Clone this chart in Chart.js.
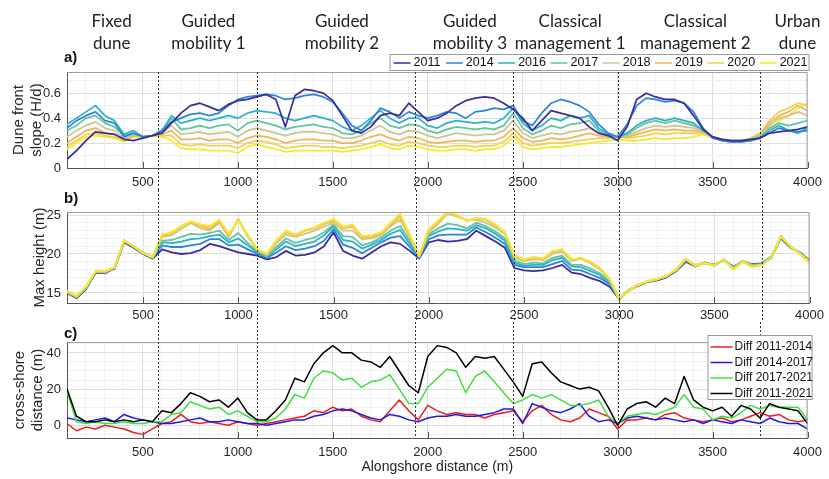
<!DOCTYPE html>
<html>
<head>
<meta charset="utf-8">
<script src="https://cdn.jsdelivr.net/npm/chart.js@4.4.1/dist/chart.umd.min.js"></script>
<style>
  html, body { margin: 0; padding: 0; background: #fff; }
  #wrap { position: relative; width: 829px; height: 479px; overflow: hidden; }
  canvas { position: absolute; left: 0; }
  .ytick {
    position: absolute; z-index: 5; text-align: right; white-space: nowrap;
    font: 13px "Liberation Sans", Arial, sans-serif; line-height: 16px; color: #262626;
  }
</style>
</head>
<body>
<div id="wrap">
  <canvas id="slopeChart" width="829" height="190" style="top:0"></canvas>
  <canvas id="heightChart" width="829" height="132" style="top:190px"></canvas>
  <canvas id="diffChart" width="829" height="157" style="top:322px"></canvas>
</div>
<script>
// alongshore positions (m)
const distance = [
  100,150,200,250,300,350,400,450,500,550,
  600,650,700,750,800,850,900,950,1000,1050,
  1100,1150,1200,1250,1300,1350,1400,1450,1500,1550,
  1600,1650,1700,1750,1800,1850,1900,1950,2000,2050,
  2100,2150,2200,2250,2300,2350,2400,2450,2500,2550,
  2600,2650,2700,2750,2800,2850,2900,2950,3000,3050,
  3100,3150,3200,3250,3300,3350,3400,3450,3500,3550,
  3600,3650,3700,3750,3800,3850,3900,3950,4000
];

// sector limits and label positions (m)
const boundaries = [580, 1100, 1935, 2450, 3000, 3750];
const regionNames = [
  ['Fixed', 'dune'], ['Guided', 'mobility 1'], ['Guided', 'mobility 2'], ['Guided', 'mobility 3'],
  ['Classical', 'management 1'], ['Classical', 'management 2'], ['Urban', 'dune']
];
const regionCenters = [335, 845, 1548, 2222, 2750, 3409, 3947];

// y grid positions and the labelled ones
const slopeTicks = [0, 0.1, 0.2, 0.3, 0.4, 0.5, 0.6, 0.7];
const slopeLabels = [0, 0.2, 0.4, 0.6];
const heightTicks = [14, 15, 16, 17, 18, 19, 20, 21, 22, 23, 24, 25];
const heightLabels = [15, 20, 25];
const diffTicks = [-5, 0, 5, 10, 15, 20, 25, 30, 35, 40, 45];
const diffTickLabels = [0, 20, 40];

const years = ['2011', '2014', '2016', '2017', '2018', '2019', '2020', '2021'];
const yearColors = ['#3b2c99', '#2b86d9', '#2ab2c6', '#62c4a2', '#cfc58f', '#f0b45a', '#f3cf50', '#f6e824'];

// a) dune front slope (H/d)
const slope2011 = [
  0.07,0.14,0.22,0.29,0.28,0.27,0.23,0.22,0.24,0.26,
  0.28,0.36,0.44,0.50,0.52,0.49,0.46,0.51,0.54,0.55,
  0.57,0.59,0.55,0.33,0.58,0.63,0.62,0.60,0.54,0.42,
  0.30,0.28,0.33,0.42,0.44,0.42,0.52,0.45,0.38,0.40,
  0.44,0.50,0.54,0.56,0.57,0.56,0.52,0.47,0.40,0.30,
  0.38,0.46,0.44,0.42,0.40,0.33,0.28,0.26,0.22,0.33,
  0.55,0.60,0.57,0.55,0.55,0.52,0.42,0.31,0.25,0.23,
  0.22,0.22,0.23,0.24,0.28,0.29,0.30,0.31,0.33
];
const slope2014 = [
  0.32,0.38,0.42,0.45,0.38,0.36,0.25,0.28,0.25,0.26,
  0.30,0.37,0.40,0.43,0.44,0.42,0.44,0.50,0.55,0.57,
  0.58,0.59,0.58,0.55,0.56,0.58,0.59,0.57,0.53,0.44,
  0.34,0.30,0.38,0.48,0.45,0.40,0.45,0.42,0.40,0.42,
  0.45,0.44,0.40,0.45,0.46,0.48,0.47,0.50,0.38,0.34,
  0.44,0.52,0.55,0.53,0.50,0.45,0.35,0.28,0.25,0.35,
  0.50,0.56,0.55,0.53,0.54,0.52,0.45,0.32,0.24,0.22,
  0.21,0.21,0.22,0.24,0.28,0.32,0.30,0.29,0.30
];
const slope2016 = [
  0.35,0.40,0.45,0.50,0.42,0.38,0.27,0.30,0.25,0.26,
  0.30,0.42,0.36,0.38,0.40,0.38,0.40,0.42,0.40,0.44,
  0.46,0.45,0.44,0.40,0.38,0.40,0.42,0.40,0.38,0.33,
  0.30,0.34,0.40,0.46,0.40,0.36,0.40,0.40,0.34,0.32,
  0.36,0.38,0.37,0.36,0.37,0.36,0.40,0.48,0.36,0.30,
  0.34,0.40,0.38,0.42,0.40,0.42,0.32,0.27,0.25,0.28,
  0.34,0.38,0.40,0.38,0.40,0.38,0.36,0.30,0.25,0.22,
  0.21,0.21,0.22,0.24,0.30,0.34,0.30,0.28,0.32
];
const slope2017 = [
  0.30,0.34,0.40,0.42,0.36,0.33,0.26,0.28,0.25,0.26,
  0.29,0.40,0.31,0.32,0.34,0.32,0.34,0.35,0.30,0.36,
  0.38,0.36,0.34,0.31,0.33,0.34,0.35,0.33,0.32,0.28,
  0.27,0.30,0.36,0.40,0.34,0.32,0.35,0.34,0.30,0.28,
  0.31,0.33,0.32,0.31,0.32,0.31,0.34,0.44,0.32,0.27,
  0.30,0.34,0.32,0.35,0.36,0.38,0.30,0.26,0.25,0.27,
  0.32,0.36,0.38,0.36,0.38,0.36,0.34,0.31,0.25,0.22,
  0.21,0.22,0.22,0.25,0.32,0.36,0.34,0.36,0.38
];
const slope2018 = [
  0.25,0.30,0.34,0.37,0.32,0.30,0.24,0.27,0.25,0.26,
  0.28,0.34,0.27,0.28,0.29,0.27,0.28,0.29,0.25,0.30,
  0.32,0.30,0.28,0.26,0.28,0.29,0.29,0.28,0.27,0.24,
  0.24,0.26,0.30,0.34,0.29,0.27,0.30,0.29,0.26,0.24,
  0.26,0.28,0.27,0.26,0.27,0.27,0.30,0.38,0.28,0.24,
  0.26,0.28,0.27,0.29,0.30,0.32,0.28,0.25,0.25,0.26,
  0.29,0.32,0.34,0.33,0.34,0.33,0.32,0.30,0.25,0.22,
  0.21,0.22,0.23,0.26,0.34,0.40,0.42,0.45,0.42
];
const slope2019 = [
  0.20,0.25,0.30,0.32,0.28,0.27,0.23,0.26,0.25,0.26,
  0.27,0.30,0.23,0.23,0.24,0.22,0.23,0.23,0.20,0.24,
  0.26,0.25,0.23,0.20,0.22,0.23,0.23,0.22,0.22,0.20,
  0.20,0.22,0.25,0.27,0.24,0.22,0.25,0.24,0.21,0.20,
  0.21,0.22,0.22,0.21,0.22,0.22,0.25,0.32,0.24,0.21,
  0.22,0.24,0.23,0.24,0.26,0.28,0.26,0.25,0.25,0.25,
  0.27,0.29,0.31,0.30,0.31,0.30,0.30,0.29,0.25,0.23,
  0.22,0.22,0.23,0.27,0.36,0.42,0.45,0.50,0.46
];
const slope2020 = [
  0.17,0.22,0.27,0.28,0.26,0.25,0.22,0.26,0.25,0.26,
  0.26,0.26,0.19,0.18,0.19,0.18,0.18,0.18,0.16,0.20,
  0.22,0.21,0.19,0.16,0.17,0.18,0.18,0.17,0.17,0.16,
  0.17,0.18,0.20,0.22,0.19,0.18,0.21,0.20,0.18,0.17,
  0.17,0.18,0.18,0.17,0.18,0.18,0.21,0.28,0.20,0.18,
  0.19,0.20,0.20,0.21,0.22,0.23,0.24,0.24,0.25,0.24,
  0.25,0.26,0.28,0.27,0.28,0.28,0.28,0.28,0.25,0.23,
  0.22,0.22,0.24,0.28,0.38,0.45,0.48,0.52,0.50
];
const slope2021 = [
  0.15,0.20,0.25,0.26,0.25,0.24,0.21,0.25,0.25,0.26,
  0.25,0.22,0.16,0.15,0.15,0.14,0.14,0.14,0.12,0.17,
  0.19,0.17,0.15,0.13,0.14,0.14,0.14,0.14,0.14,0.13,
  0.14,0.15,0.17,0.19,0.16,0.15,0.18,0.17,0.15,0.14,
  0.14,0.15,0.15,0.14,0.15,0.15,0.18,0.25,0.17,0.15,
  0.16,0.17,0.17,0.18,0.19,0.20,0.21,0.22,0.23,0.22,
  0.22,0.23,0.24,0.23,0.24,0.24,0.25,0.27,0.24,0.23,
  0.22,0.22,0.23,0.25,0.30,0.38,0.42,0.48,0.52
];

// b) max dune height (m)
const height2011 = [
  15.0,14.3,15.5,17.6,17.5,18.2,21.5,20.8,20.0,19.4,
  20.6,20.2,20.0,20.1,20.5,21.3,21.0,20.6,20.2,20.0,
  19.8,19.3,19.6,20.4,19.8,19.9,20.2,21.0,22.8,20.4,
  19.8,19.4,20.2,21.0,21.5,21.3,20.4,19.4,21.5,21.8,
  21.6,21.7,21.9,23.0,22.3,21.6,20.8,18.2,17.9,17.8,
  17.9,18.2,18.6,17.6,17.4,16.9,16.5,15.8,14.2,15.3,
  15.9,16.4,16.6,17.0,17.8,19.0,18.4,18.9,18.6,19.2,
  18.4,19.0,18.7,18.8,19.6,22.0,20.8,20.2,19.2
];
const height2014 = [
  15.1,14.4,15.7,17.5,17.7,18.1,21.6,20.9,20.0,19.5,
  21.1,20.9,20.9,21.1,21.3,21.9,21.9,21.1,21.2,20.6,
  20.0,19.5,20.2,21.0,20.5,20.7,21.0,21.7,23.2,21.2,
  20.8,20.1,20.8,21.5,22.1,22.3,20.9,19.5,21.9,22.4,
  22.5,22.5,22.5,23.4,22.8,22.1,21.3,18.6,18.3,18.3,
  18.3,18.7,19.1,18.0,17.9,17.4,16.9,16.1,14.2,15.4,
  15.9,16.5,16.7,17.1,17.9,19.1,18.5,18.8,18.6,19.2,
  18.3,19.1,18.6,18.8,19.7,22.1,20.9,20.1,19.1
];
const height2016 = [
  15.0,14.5,15.6,17.7,17.6,18.3,21.7,20.9,20.2,19.5,
  21.5,21.4,21.6,21.9,22.0,22.3,22.5,21.5,22.0,21.1,
  20.2,19.6,20.6,21.6,21.0,21.3,21.6,22.4,23.6,21.8,
  21.6,20.7,21.2,21.8,22.6,23.1,21.3,19.6,22.3,22.9,
  23.3,23.2,23.0,23.7,23.3,22.6,21.7,18.9,18.5,18.6,
  18.6,19.2,19.5,18.4,18.3,17.8,17.3,16.3,14.1,15.3,
  16.0,16.4,16.7,17.1,17.9,19.2,18.5,18.9,18.6,19.3,
  18.2,19.0,18.5,18.7,19.5,22.3,20.9,20.2,19.0
];
const height2017 = [
  15.1,14.4,15.7,17.7,17.7,18.2,21.6,21.0,20.1,19.6,
  21.7,21.8,22.2,22.6,22.5,22.7,23.0,21.8,22.7,21.4,
  20.3,19.7,20.9,22.0,21.4,21.8,22.1,22.8,23.8,22.3,
  22.2,21.1,21.5,22.1,23.0,23.6,21.7,19.6,22.5,23.3,
  23.9,23.7,23.3,24.0,23.6,22.9,22.0,19.2,18.7,18.9,
  18.8,19.5,19.8,18.6,18.6,18.1,17.5,16.5,14.2,15.4,
  16.0,16.5,16.8,17.1,18.0,19.3,18.4,18.9,18.5,19.2,
  18.3,19.1,18.6,18.7,19.6,22.2,20.8,20.1,19.0
];
const height2018 = [
  15.1,14.5,15.7,17.8,17.6,18.3,21.7,21.0,20.1,19.5,
  22.2,22.4,23.2,24.0,23.3,23.0,24.0,22.2,24.5,22.2,
  20.5,19.9,21.4,22.5,22.2,22.6,23.0,23.5,24.0,23.0,
  23.0,21.9,22.0,22.4,23.6,24.4,22.1,19.7,22.8,23.9,
  25.2,24.8,24.4,24.4,24.0,23.4,22.6,19.5,19.1,19.3,
  19.2,20.0,20.3,19.1,19.4,18.8,18.0,16.7,14.3,15.2,
  16.1,16.4,16.7,17.2,17.9,19.3,18.6,18.9,18.6,19.2,
  18.2,19.1,18.5,18.6,19.7,22.3,20.9,20.1,19.1
];
const height2019 = [
  15.2,14.5,15.8,17.7,17.7,18.3,21.7,21.0,20.1,19.6,
  22.4,22.6,23.6,24.1,23.6,23.2,24.2,22.4,24.4,22.3,
  20.6,19.9,21.6,22.8,22.4,23.0,23.3,23.8,24.3,23.3,
  23.5,22.1,22.2,22.6,23.8,24.8,22.3,19.8,23.0,24.1,
  25.6,24.9,24.3,24.5,24.4,23.6,22.7,19.7,19.2,19.5,
  19.3,20.2,20.5,19.2,19.5,18.9,18.1,16.8,14.2,15.3,
  16.0,16.5,16.8,17.2,18.0,19.4,18.5,18.8,18.5,19.3,
  18.1,19.0,18.4,18.6,19.6,22.2,21.0,20.0,19.0
];
const height2020 = [
  15.2,14.6,15.8,17.8,17.8,18.3,21.8,21.0,20.1,19.6,
  22.5,22.7,23.5,24.2,23.7,23.5,24.3,22.5,24.3,22.4,
  20.6,20.0,21.7,22.9,22.5,23.0,23.4,23.9,24.4,23.4,
  23.7,22.2,22.3,22.7,23.9,25.0,22.4,19.8,23.1,24.2,
  25.3,24.9,24.3,24.6,24.5,23.7,22.8,19.8,19.3,19.6,
  19.4,20.3,20.6,19.3,19.5,19.0,18.2,16.8,14.2,15.3,
  16.0,16.5,16.8,17.2,18.0,19.4,18.5,18.8,18.5,19.3,
  18.0,19.0,18.3,18.6,19.6,22.2,21.0,20.0,18.9
];
const height2021 = [
  15.2,14.6,15.8,17.8,17.8,18.3,21.8,21.0,20.1,19.6,
  22.5,22.8,23.6,24.2,23.8,23.6,24.4,22.6,24.3,22.4,
  20.6,20.0,21.8,23.0,22.5,23.1,23.4,24.0,24.5,23.5,
  23.8,22.3,22.4,22.8,24.0,25.2,22.5,19.8,23.2,24.3,
  25.4,25.0,24.3,24.6,24.5,23.8,22.8,19.8,19.3,19.6,
  19.4,20.4,20.6,19.3,19.5,19.0,18.2,16.8,14.2,15.3,
  16.0,16.5,16.8,17.2,18.0,19.4,18.5,18.8,18.5,19.3,
  18.0,19.0,18.3,18.6,19.6,22.2,21.0,20.0,18.9
];

// c) cross-shore displacement of the dune front (m)
const diffLabels = ['Diff 2011-2014', 'Diff 2014-2017', 'Diff 2017-2021', 'Diff 2011-2021'];
const diffColors = ['#ee1c1c', '#1c1ce0', '#3ee03e', '#000000'];
const diff2011to2014 = [
  1,-3,-1,-2,0,-1,-2,-4,-5,-2,
  1,2,6,2,1,2,1,0,2,1,
  0,1,2,3,4,5,8,7,10,8,
  9,5,3,2,8,14,8,3,11,8,
  6,7,6,6,4,6,7,8,2,8,
  11,6,3,2,4,9,7,5,-2,3,
  3,4,3,6,7,4,3,2,3,4,
  2,3,5,7,5,6,3,2,3
];
const diff2014to2017 = [
  4,3,2,3,4,2,6,4,3,2,
  1,1,2,3,4,2,2,3,2,1,
  1,0,1,2,3,3,5,6,8,9,
  8,6,4,3,6,5,3,2,4,5,
  5,6,5,5,6,7,9,9,1,12,
  10,8,7,9,12,5,2,3,1,4,
  5,4,3,4,3,2,3,1,3,2,
  1,3,2,1,4,2,1,1,-2
];
const diff2017to2021 = [
  19,2,1,2,1,1,2,1,1,2,
  2,6,7,13,11,9,10,6,8,5,
  2,2,4,9,17,15,26,30,29,25,
  26,21,24,25,28,20,12,12,21,26,
  31,30,18,27,30,24,18,12,14,17,
  15,17,14,11,11,12,14,5,1,5,
  6,7,6,8,10,17,10,9,3,5,
  4,7,11,9,11,10,10,10,3
];
const diff2011to2021 = [
  20,5,2,2,3,2,3,2,3,2,
  8,7,12,18,16,13,14,10,15,7,
  3,3,8,14,26,24,34,40,44,40,
  40,36,35,32,38,30,22,18,38,44,
  43,40,32,38,37,38,31,24,16,34,
  35,29,24,22,20,21,19,10,0,9,
  12,13,10,15,12,27,14,10,8,10,
  5,11,9,4,12,10,9,8,1
];

const FONT = '"Liberation Sans", Arial, sans-serif';
const textColor = '#262626';
const majorGrid = '#dedede';
const minorGrid = '#f1f1f1';

const toPoints = vals => distance.map((x, i) => ({ x: x, y: vals[i] }));

function makeOptions(o) {
  const isLabelled = v => o.yLabels.some(l => Math.abs(l - v) < 1e-9);
  return {
    responsive: false,
    animation: false,
    events: [],
    layout: { padding: { top: o.padTop, right: 16, left: 0, bottom: 0 } },
    plugins: { legend: { display: false }, tooltip: { enabled: false } },
    elements: { point: { radius: 0 }, line: { tension: 0, borderCapStyle: 'round', borderJoinStyle: 'round' } },
    scales: {
      x: {
        type: 'linear', min: 100, max: 4000,
        ticks: {
          stepSize: 100, autoSkip: false, maxRotation: 0, padding: o.xPad,
          color: textColor, font: { family: FONT, size: 13 },
          callback: v => (v % 500 === 0 ? String(v) : '')
        },
        grid: { drawTicks: false, color: c => (c.tick && c.tick.value % 500 === 0 ? majorGrid : minorGrid) },
        border: { color: '#555' },
        title: o.xTitle
          ? { display: true, text: o.xTitle, color: textColor, font: { family: FONT, size: 14 }, padding: { top: 0, bottom: 3 } }
          : { display: false },
        afterFit: s => { s.height = o.xHeight; }
      },
      y: {
        min: o.yMin, max: o.yMax,
        afterBuildTicks: s => { s.ticks = o.yTicks.map(v => ({ value: v })); },
        ticks: { display: false },
        grid: { drawTicks: false, color: c => (c.tick && isLabelled(c.tick.value) ? majorGrid : minorGrid) },
        border: { color: '#555' },
        title: { display: true, text: o.yTitle, color: textColor, font: { family: FONT, size: 15 }, padding: { top: o.yTitlePad, bottom: 0 } },
        afterFit: s => { s.width = 67; }
      }
    }
  };
}

// dashed sector limits, frame, inward ticks and panel letter
function panelDecor(letter, spanTop, spanBottom, letterGap) {
  return {
    id: 'decor_' + letter,
    afterDatasetsDraw(chart) {
      const { ctx, chartArea: a, scales: { x } } = chart;
      ctx.save();
      ctx.strokeStyle = '#a0a0a0';
      ctx.lineWidth = 1;
      ctx.beginPath();
      ctx.moveTo(a.left, a.top + 0.5);
      ctx.lineTo(a.right - 0.5, a.top + 0.5);
      ctx.lineTo(a.right - 0.5, a.bottom);
      ctx.stroke();

      ctx.strokeStyle = '#555';
      ctx.beginPath();
      x.ticks.forEach(t => {
        if (t.value % 500 !== 0) return;
        const px = Math.round(x.getPixelForValue(t.value)) + 0.5;
        ctx.moveTo(px, a.bottom);
        ctx.lineTo(px, a.bottom - 6);
      });
      ctx.stroke();

      ctx.strokeStyle = '#333';
      ctx.setLineDash([2, 2]);
      const top = spanTop === 'area' ? a.top : 0;
      const bottom = spanBottom === 'area' ? a.bottom : chart.height;
      boundaries.forEach(b => {
        const px = Math.round(x.getPixelForValue(b)) + 0.5;
        ctx.beginPath();
        ctx.moveTo(px, top);
        ctx.lineTo(px, bottom);
        ctx.stroke();
      });
      ctx.setLineDash([]);
      ctx.restore();
    },
    afterDraw(chart) {
      const { ctx, chartArea: a } = chart;
      ctx.save();
      ctx.fillStyle = '#111';
      ctx.font = 'bold 15px ' + FONT;
      ctx.textAlign = 'left';
      ctx.textBaseline = 'alphabetic';
      ctx.fillText(letter + ')', a.left - 3, a.top - letterGap);
      ctx.restore();
    }
  };
}

const headerAndLegend = {
  id: 'headerAndLegend',
  afterDraw(chart) {
    const { ctx, chartArea: a, scales: { x } } = chart;
    ctx.save();
    // sector names
    ctx.fillStyle = '#222';
    ctx.font = '17px Lato, "Open Sans", sans-serif';
    ctx.textAlign = 'center';
    ctx.textBaseline = 'alphabetic';
    regionNames.forEach((lines, i) => {
      const cx = x.getPixelForValue(regionCenters[i]);
      ctx.fillText(lines[0], cx, 27);
      ctx.fillText(lines[1], cx, 49);
    });
    // year legend
    const w = 420, h = 17;
    const left = a.right + 2 - w, top = a.top - 18;
    ctx.fillStyle = '#fff';
    ctx.fillRect(left, top, w, h);
    ctx.strokeStyle = '#9a9a9a';
    ctx.lineWidth = 1;
    ctx.strokeRect(left + 0.5, top + 0.5, w - 1, h - 1);
    ctx.font = '12.5px ' + FONT;
    ctx.textAlign = 'left';
    ctx.textBaseline = 'middle';
    chart.data.datasets.forEach((ds, i) => {
      const ix = left + 4 + i * 52.3;
      const cy = top + h / 2 + 0.5;
      ctx.strokeStyle = ds.borderColor;
      ctx.lineWidth = 1.5;
      ctx.beginPath();
      ctx.moveTo(ix, cy);
      ctx.lineTo(ix + 17, cy);
      ctx.stroke();
      ctx.fillStyle = '#111';
      ctx.fillText(ds.label, ix + 20, cy);
    });
    ctx.restore();
  }
};

const diffLegend = {
  id: 'diffLegend',
  afterDraw(chart) {
    const { ctx, chartArea: a } = chart;
    const w = 105, h = 65;
    const left = a.right + 5 - w, top = a.top - 7;
    ctx.save();
    ctx.fillStyle = '#fff';
    ctx.fillRect(left, top, w, h);
    ctx.strokeStyle = '#9a9a9a';
    ctx.lineWidth = 1;
    ctx.strokeRect(left + 0.5, top + 0.5, w - 1, h - 1);
    ctx.font = '12px ' + FONT;
    ctx.textAlign = 'left';
    ctx.textBaseline = 'middle';
    chart.data.datasets.forEach((ds, i) => {
      const cy = top + 12 + i * 15.5;
      ctx.strokeStyle = ds.borderColor;
      ctx.lineWidth = 1.5;
      ctx.beginPath();
      ctx.moveTo(left + 3, cy);
      ctx.lineTo(left + 25, cy);
      ctx.stroke();
      ctx.fillStyle = '#111';
      ctx.fillText(ds.label, left + 27, cy);
    });
    ctx.restore();
  }
};

// y tick labels as page text, placed through each chart's own y scale
function addYLabels(chart, labels) {
  const wrap = document.getElementById('wrap');
  const canvasTop = chart.canvas.offsetTop;
  const y = chart.scales.y, a = chart.chartArea;
  labels.forEach(v => {
    const d = document.createElement('div');
    d.className = 'ytick';
    d.textContent = String(v);
    d.style.top = (canvasTop + y.getPixelForValue(v) - 8) + 'px';
    d.style.right = (chart.width - a.left + 6) + 'px';
    wrap.appendChild(d);
  });
}

const slopeSeries = [slope2011, slope2014, slope2016, slope2017, slope2018, slope2019, slope2020, slope2021];
const heightSeries = [height2011, height2014, height2016, height2017, height2018, height2019, height2020, height2021];
const diffSeries = [diff2011to2014, diff2014to2017, diff2017to2021, diff2011to2021];

const slopeChart = new Chart(document.getElementById('slopeChart'), {
  type: 'line',
  data: {
    datasets: slopeSeries.map((vals, i) => ({
      label: years[i], data: toPoints(vals), borderColor: yearColors[i], borderWidth: 1.7
    }))
  },
  options: makeOptions({
    padTop: 72, xPad: 7, xHeight: 22,
    yMin: 0, yMax: 0.77, yTicks: slopeTicks, yLabels: slopeLabels,
    yTitle: ['Dune front', 'slope (H/d)'], yTitlePad: 10
  }),
  plugins: [panelDecor('a', 'area', 'canvas', 10), headerAndLegend]
});

const heightChart = new Chart(document.getElementById('heightChart'), {
  type: 'line',
  data: {
    datasets: heightSeries.map((vals, i) => ({
      label: years[i], data: toPoints(vals), borderColor: yearColors[i], borderWidth: 1.8,
      order: years.length - i
    }))
  },
  options: makeOptions({
    padTop: 22, xPad: 5, xHeight: 19,
    yMin: 13.7, yMax: 25.4, yTicks: heightTicks, yLabels: heightLabels,
    yTitle: 'Max height (m)', yTitlePad: 31
  }),
  plugins: [panelDecor('b', 'canvas', 'canvas', 9)]
});

const diffChart = new Chart(document.getElementById('diffChart'), {
  type: 'line',
  data: {
    datasets: diffSeries.map((vals, i) => ({
      label: diffLabels[i], data: toPoints(vals), borderColor: diffColors[i], borderWidth: 1.5,
      order: diffSeries.length - i
    }))
  },
  options: makeOptions({
    padTop: 20, xPad: 7, xHeight: 41, xTitle: 'Alongshore distance (m)',
    yMin: -7, yMax: 46, yTicks: diffTicks, yLabels: diffTickLabels,
    yTitle: ['cross-shore', 'distance (m)'], yTitlePad: 11
  }),
  plugins: [panelDecor('c', 'canvas', 'area', 4), diffLegend]
});

addYLabels(slopeChart, slopeLabels);
addYLabels(heightChart, heightLabels);
addYLabels(diffChart, diffTickLabels);
</script>
</body>
</html>
